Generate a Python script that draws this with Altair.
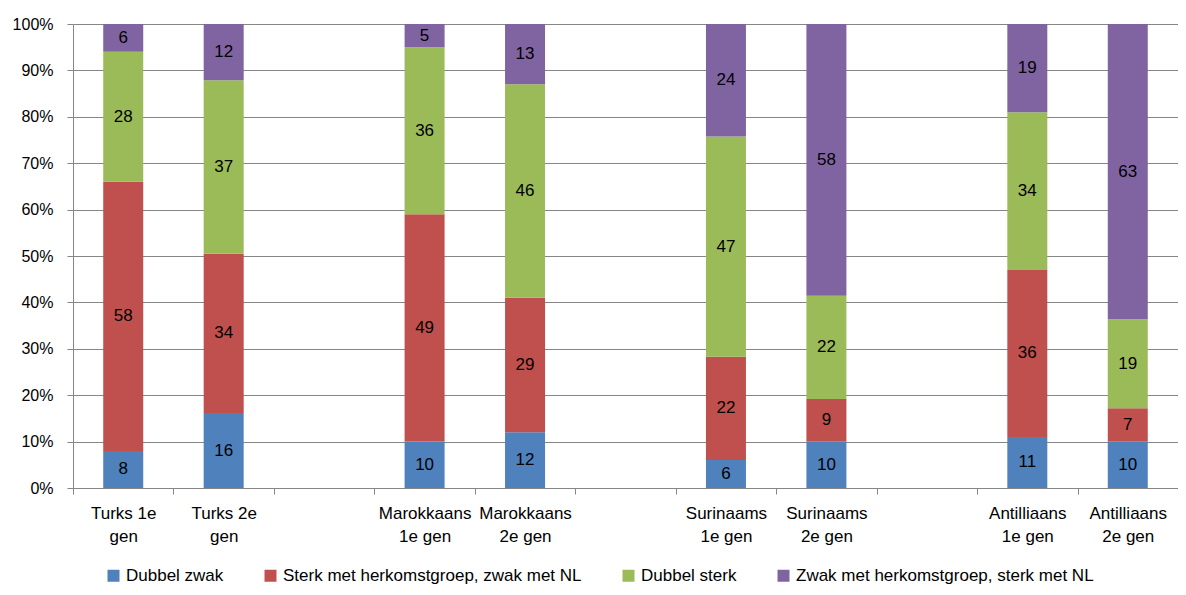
import altair as alt
import pandas as pd

categories = ["Turks 1e|gen", "Turks 2e|gen", " ", "Marokkaans|1e gen", "Marokkaans|2e gen", "  ",
              "Surinaams|1e gen", "Surinaams|2e gen", "   ", "Antilliaans|1e gen", "Antilliaans|2e gen"]
groups = ["Turks 1e|gen", "Turks 2e|gen", "Marokkaans|1e gen", "Marokkaans|2e gen",
          "Surinaams|1e gen", "Surinaams|2e gen", "Antilliaans|1e gen", "Antilliaans|2e gen"]
series = ["Dubbel zwak", "Sterk met herkomstgroep, zwak met NL", "Dubbel sterk",
          "Zwak met herkomstgroep, sterk met NL"]
colors = ["#4F81BD", "#C0504D", "#9BBB59", "#8064A2"]

dubbel_zwak = [8, 16, 10, 12, 6, 10, 11, 10]
sterk_herkomst = [58, 34, 49, 29, 22, 9, 36, 7]
dubbel_sterk = [28, 37, 36, 46, 47, 22, 34, 19]
zwak_herkomst = [6, 12, 5, 13, 24, 58, 19, 63]

rows = []
for i, g in enumerate(groups):
    for k, vals in enumerate([dubbel_zwak, sterk_herkomst, dubbel_sterk, zwak_herkomst]):
        rows.append({"cat": g, "series": series[k], "order": k, "value": vals[i]})
df = pd.DataFrame(rows)

FONT = "Liberation Sans"

base = alt.Chart(df).transform_joinaggregate(
    total="sum(value)", groupby=["cat"]
).transform_calculate(
    pct="datum.value / datum.total"
).transform_stack(
    stack="pct", groupby=["cat"], as_=["y0", "y1"], sort=[alt.SortField("order", order="ascending")]
).transform_calculate(
    mid="(datum.y0 + datum.y1) / 2"
)

xenc = alt.X("cat:N", scale=alt.Scale(domain=categories, paddingInner=0, paddingOuter=0),
             axis=alt.Axis(title=None, labelAngle=0, labelExpr="split(datum.label, '|')",
                           tickBand="extent", grid=False, domainColor="#868686", tickColor="#868686",
                           tickSize=6, labelFontSize=17, labelFont=FONT, labelColor="black",
                           labelPadding=11, labelLineHeight=23))

bars = base.mark_bar(size=40).encode(
    x=xenc,
    y=alt.Y("y0:Q", scale=alt.Scale(domain=[0, 1]),
            axis=alt.Axis(title=None, format=".0%", values=[i / 10 for i in range(11)],
                          gridColor="#868686", domainColor="#868686", tickColor="#868686",
                          tickSize=6, labelFontSize=16, labelFont=FONT, labelColor="black",
                          labelPadding=14)),
    y2="y1:Q",
    color=alt.Color("series:N", scale=alt.Scale(domain=series, range=colors),
                    legend=alt.Legend(title=None, orient="none", direction="horizontal",
                                      legendX=32, legendY=543, symbolType="square", symbolSize=144,
                                      symbolStrokeWidth=0, labelFontSize=17, labelFont=FONT,
                                      labelColor="black", columnPadding=38, padding=0,
                                      labelLimit=400, symbolOffset=0, labelOffset=4)),
)

labels = base.mark_text(fontSize=17, font=FONT, color="black").encode(
    x=alt.X("cat:N", scale=alt.Scale(domain=categories)),
    y=alt.Y("mid:Q"),
    text=alt.Text("value:Q"),
)

chart = alt.layer(bars, labels).properties(
    width=1105, height=464,
    padding={"left": 65, "top": 16, "right": 0, "bottom": 99},
    autosize=alt.AutoSizeParams(type="none"),
).configure_view(stroke=None)

chart.save("out.html", embed_options={"renderer": "svg", "actions": False})
